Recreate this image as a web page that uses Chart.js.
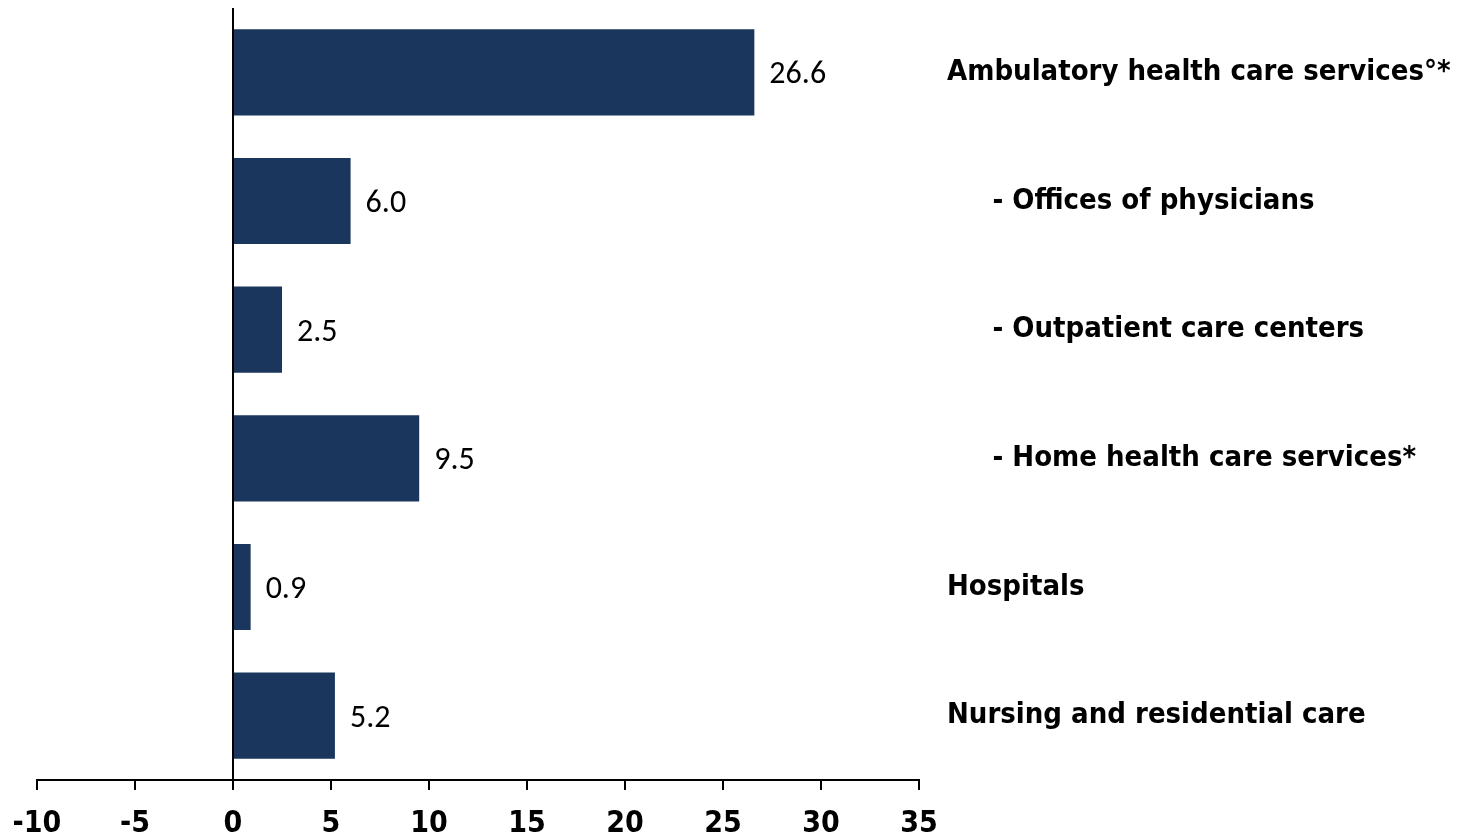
<!DOCTYPE html>
<html>
<head>
<meta charset="utf-8">
<script src="https://cdn.jsdelivr.net/npm/chart.js@4"></script>
<style>
  body { margin: 0; background: #fff; }
  #wrap { width: 1459px; height: 836px; }
</style>
</head>
<body>
<div id="wrap"><canvas id="chart"></canvas></div>
<script>
// Data
const categories = [
    'Ambulatory health care services°*',
    '- Offices of physicians',
    '- Outpatient care centers',
    '- Home health care services*',
    'Hospitals',
    'Nursing and residential care'
];
const values = [26.6, 6.0, 2.5, 9.5, 0.9, 5.2];
const xTicks = [-10, -5, 0, 5, 10, 15, 20, 25, 30, 35];

const barColor = '#1b365d';
const labelFont = '"DejaVu Sans Condensed", "DejaVu Sans", sans-serif';
const valueFont = 'Carlito, "Liberation Sans Narrow", "Open Sans", sans-serif';

// Value labels at the end of each bar
const valueLabels = {
    id: 'valueLabels',
    afterDatasetsDraw(chart) {
        const ctx = chart.ctx;
        const meta = chart.getDatasetMeta(0);
        ctx.save();
        ctx.fillStyle = '#000';
        ctx.font = '32px ' + valueFont;
        ctx.textAlign = 'left';
        ctx.textBaseline = 'middle';
        meta.data.forEach((bar, i) => {
            ctx.fillText(values[i].toFixed(1), bar.x + 15, bar.y + 3);
        });
        ctx.restore();
    }
};

const ctx = document.getElementById('chart').getContext('2d');
const chart = new Chart(ctx, {
    type: 'bar',
    data: {
        labels: categories,
        datasets: [{
            data: values,
            backgroundColor: barColor,
            borderWidth: 0,
            barPercentage: 0.67,
            categoryPercentage: 1
        }]
    },
    options: {
        indexAxis: 'y',
        responsive: true,
        maintainAspectRatio: false,
        animation: false,
        layout: {
            padding: { left: 37, top: 8, right: 0, bottom: 0 }
        },
        plugins: {
            legend: { display: false },
            tooltip: { enabled: false }
        },
        scales: {
            x: {
                position: 'bottom',
                min: -10,
                max: 35,
                afterBuildTicks(scale) {
                    scale.ticks = xTicks.map(v => ({ value: v }));
                },
                afterFit(scale) {
                    scale.height = 56;
                    scale.paddingLeft = 0;
                    scale.paddingRight = 0;
                },
                border: { display: true, color: '#000', width: 2 },
                grid: {
                    drawOnChartArea: true,
                    color: c => (c.tick && c.tick.value === 0) ? '#000' : 'rgba(0,0,0,0)',
                    lineWidth: 2,
                    drawTicks: true,
                    tickLength: 10,
                    tickColor: '#000'
                },
                ticks: {
                    color: '#000',
                    padding: 16,
                    maxRotation: 0,
                    font: { family: labelFont, size: 30, weight: 'bold' }
                }
            },
            y: {
                position: 'right',
                border: { display: false },
                grid: { display: false, drawTicks: false },
                afterFit(scale) {
                    scale.width = 540;
                    scale.paddingTop = 0;
                    scale.paddingBottom = 0;
                },
                ticks: {
                    color: '#000',
                    padding: 28,
                    crossAlign: 'near',
                    font: { family: labelFont, size: 29, weight: 'bold' },
                    callback: (v, i) => categories[i].startsWith('-') ? '     ' + categories[i] : categories[i]
                }
            }
        }
    },
    plugins: [valueLabels]
});
</script>
</body>
</html>
